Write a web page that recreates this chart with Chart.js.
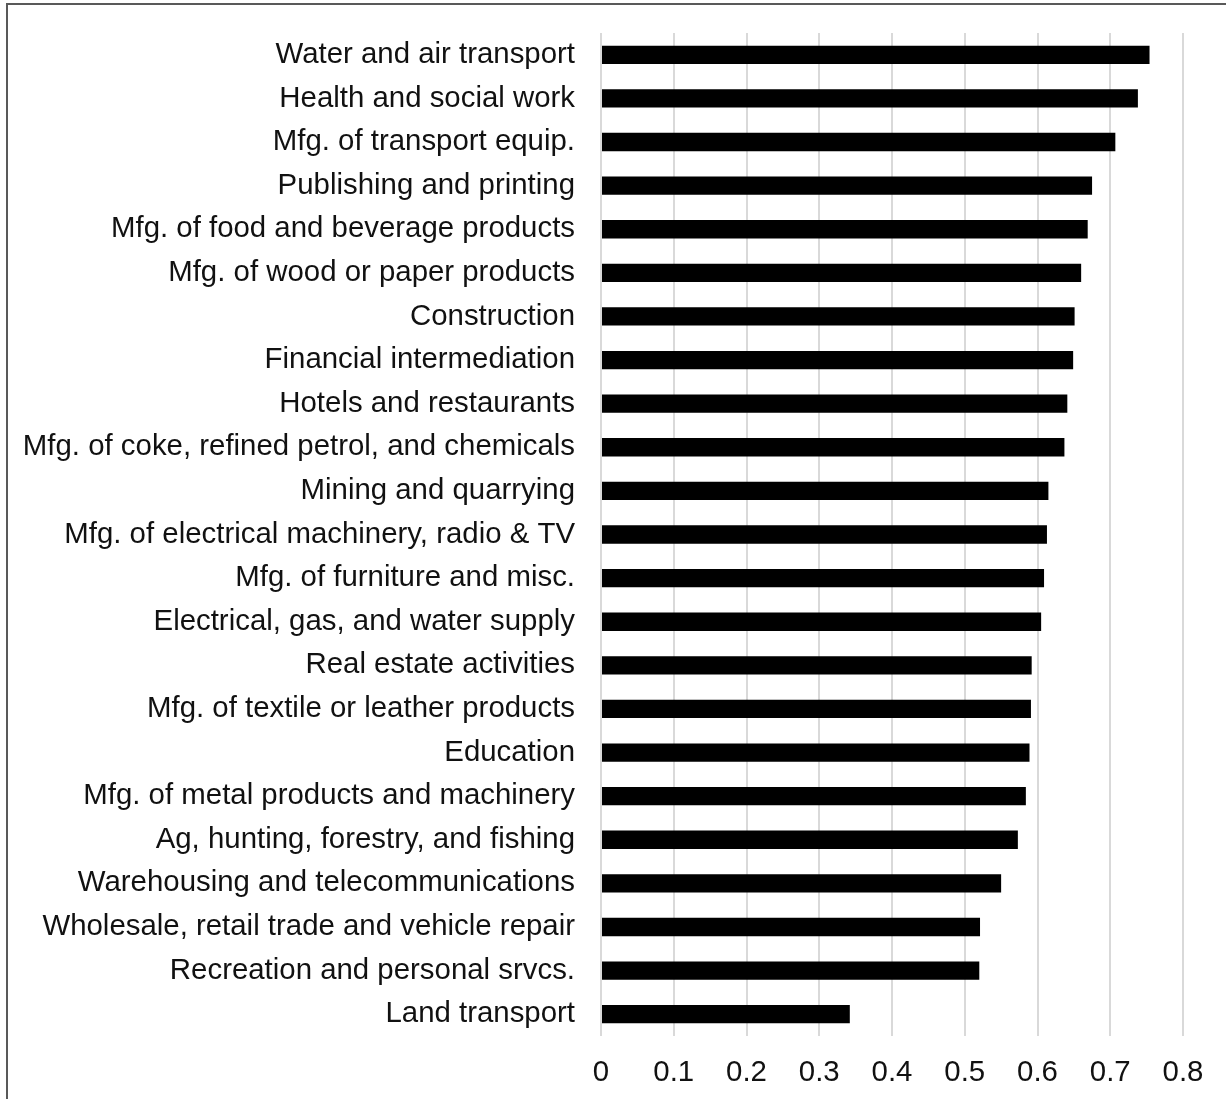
<!DOCTYPE html>
<html>
<head>
<meta charset="utf-8">
<script src="https://cdn.jsdelivr.net/npm/chart.js@4"></script>
<style>
  html, body { margin: 0; padding: 0; background: #fff; }
  #wrap { position: relative; width: 1226px; height: 1099px; }
  #frame {
    position: absolute; left: 6px; top: 3px; width: 1240px; height: 1120px;
    border: 2px solid #595959; box-sizing: border-box; pointer-events: none;
  }
</style>
</head>
<body>
<div id="wrap">
  <canvas id="chart" width="1226" height="1099"></canvas>
  <div id="frame"></div>
</div>
<script>
const sectors = [
  'Water and air transport',
  'Health and social work',
  'Mfg. of transport equip.',
  'Publishing and printing',
  'Mfg. of food and beverage products',
  'Mfg. of wood or paper products',
  'Construction',
  'Financial intermediation',
  'Hotels and restaurants',
  'Mfg. of coke, refined petrol, and chemicals',
  'Mining and quarrying',
  'Mfg. of electrical machinery, radio & TV',
  'Mfg. of furniture and misc.',
  'Electrical, gas, and water supply',
  'Real estate activities',
  'Mfg. of textile or leather products',
  'Education',
  'Mfg. of metal products and machinery',
  'Ag, hunting, forestry, and fishing',
  'Warehousing and telecommunications',
  'Wholesale, retail trade and vehicle repair',
  'Recreation and personal srvcs.',
  'Land transport'
];
const values = [
  0.754, 0.738, 0.707, 0.675, 0.669, 0.660, 0.651, 0.649, 0.641, 0.637,
  0.615, 0.613, 0.609, 0.605, 0.592, 0.591, 0.589, 0.584, 0.573, 0.550,
  0.521, 0.520, 0.342
];
const xTicks = [0, 0.1, 0.2, 0.3, 0.4, 0.5, 0.6, 0.7, 0.8];

const font = { family: "'Liberation Sans', Arial, sans-serif", size: 29.4 };

new Chart(document.getElementById('chart'), {
  type: 'bar',
  data: {
    labels: sectors,
    datasets: [{
      data: values,
      backgroundColor: '#000000',
      categoryPercentage: 1,
      barPercentage: 0.42
    }]
  },
  options: {
    indexAxis: 'y',
    responsive: false,
    animation: false,
    layout: { padding: { left: 0, right: 43, top: 33, bottom: 0 } },
    plugins: { legend: { display: false }, tooltip: { enabled: false } },
    scales: {
      x: {
        min: 0,
        max: 0.8,
        afterBuildTicks: (scale) => { scale.ticks = xTicks.map(v => ({ value: v })); },
        afterFit: (scale) => {
          scale.height = 63;
          scale.paddingLeft = 0;
          scale.paddingRight = 0;
        },
        grid: { color: '#d9d9d9', lineWidth: 2, drawTicks: false },
        border: { display: false },
        ticks: {
          color: '#111',
          font: font,
          padding: 19,
          maxRotation: 0,
          callback: (v) => String(Math.round(v * 10) / 10)
        }
      },
      y: {
        afterFit: (scale) => {
          scale.width = 601;
          scale.paddingTop = 0;
          scale.paddingBottom = 0;
        },
        grid: { display: false, drawTicks: false },
        border: { display: false },
        ticks: { color: '#111', font: font, padding: 26, autoSkip: false }
      }
    }
  }
});
</script>
</body>
</html>
